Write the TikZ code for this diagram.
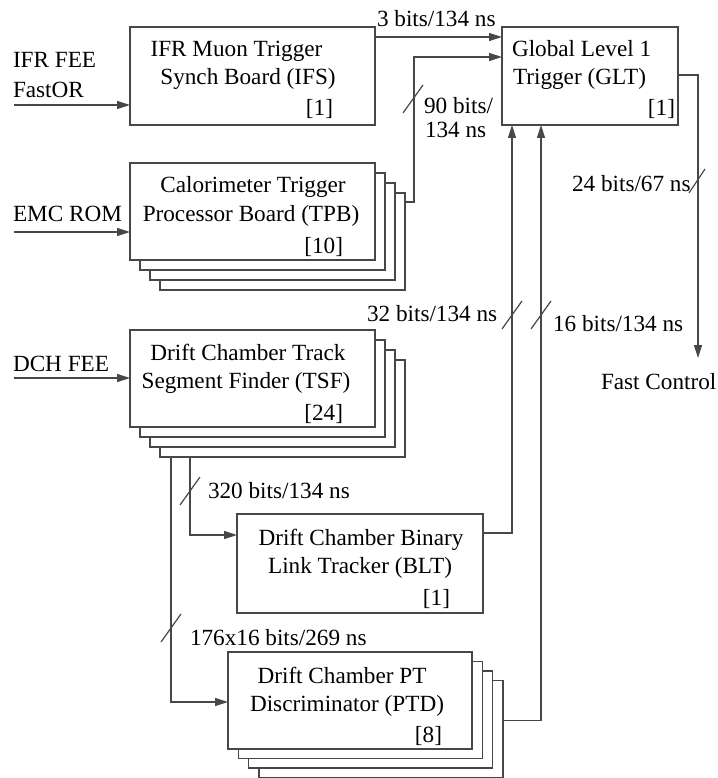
\documentclass[tikz,border=0pt]{standalone}
\usepackage{fontspec}
\setmainfont{Liberation Serif}
\usetikzlibrary{arrows.meta,calc}
\begin{document}
\begin{tikzpicture}[x=1pt,y=-1pt,
  ln/.style={draw=black!72,line width=1.2pt},
  box/.style={ln,fill=white,rectangle,inner sep=0pt,outer sep=0pt},
  arr/.style={ln,-{Triangle[length=13pt,width=8pt]}},
  slashmark/.style={ln},
  txt/.style={inner sep=0pt,outer sep=0pt,text=black,font=\fontsize{23.2}{28}\selectfont},
  lt/.style={txt,anchor=base west},
  ct/.style={txt,anchor=base},
  rt/.style={txt,anchor=base east}]
\useasboundingbox (0,0) rectangle (717,778);
% ---- single boxes
\node[box,minimum width=245pt,minimum height=98pt] (ifs) at (252.5,76) {};
\node[box,minimum width=176pt,minimum height=98pt] (glt) at (590,76) {};
\node[box,minimum width=246pt,minimum height=99pt] (blt) at (360,563.5) {};
% ---- TPB stack
\node[box,minimum width=245pt,minimum height=97pt] (tpb3) at (282.5,241.5) {};
\node[box,minimum width=245pt,minimum height=97pt] (tpb2) at (272.5,231.5) {};
\node[box,minimum width=245pt,minimum height=97pt] (tpb1) at (262.5,221.5) {};
\node[box,minimum width=245pt,minimum height=97pt] (tpb) at (252.5,211.5) {};
% ---- TSF stack
\node[box,minimum width=245pt,minimum height=97pt] (tsf3) at (282.5,408.5) {};
\node[box,minimum width=245pt,minimum height=97pt] (tsf2) at (272.5,398.5) {};
\node[box,minimum width=245pt,minimum height=97pt] (tsf1) at (262.5,388.5) {};
\node[box,minimum width=245pt,minimum height=97pt] (tsf) at (252.5,378.5) {};
% ---- PTD stack
\node[box,minimum width=244pt,minimum height=97pt] (ptd3) at (380.9,729) {};
\node[box,minimum width=244pt,minimum height=97pt] (ptd2) at (370.6,719.5) {};
\node[box,minimum width=244pt,minimum height=97pt] (ptd1) at (360.3,710) {};
\node[box,minimum width=244pt,minimum height=97pt] (ptd) at (350,700.5) {};
% ---- box texts
\node[ct] (ifsa) at (236.5,57) {IFR Muon Trigger};
\node[ct] (ifsb) at (248,85) {Synch Board (IFS)};
\node[rt] (ifsc) at (333,116) {[1]};
\node[lt] (glta) at (512,57) {Global Level 1};
\node[lt] (gltb) at (513,85) {Trigger (GLT)};
\node[rt] (gltc) at (675,116) {[1]};
\node[ct] (tpba) at (253,193) {Calorimeter Trigger};
\node[ct] (tpbb) at (251,221) {Processor Board (TPB)};
\node[rt] (tpbc) at (343,253) {[10]};
\node[ct] (tsfa) at (248,360) {Drift Chamber Track};
\node[ct] (tsfb) at (246,388) {Segment Finder (TSF)};
\node[rt] (tsfc) at (343,420) {[24]};
\node[ct] (blta) at (361,545) {Drift Chamber Binary};
\node[ct] (bltb) at (360,573) {Link Tracker (BLT)};
\node[rt] (bltc) at (450,605) {[1]};
\node[ct] (ptda) at (342,683) {Drift Chamber PT};
\node[ct] (ptdb) at (347,711) {Discriminator (PTD)};
\node[rt] (ptdc) at (442,742) {[8]};
% ---- free labels
\node[lt] (ifrfee) at (13,68) {IFR FEE};
\node[lt] (fastor) at (13,98) {FastOR};
\node[lt] (emcrom) at (13,221) {EMC ROM};
\node[lt] (dchfee) at (13,371) {DCH FEE};
\node[lt] (l3) at (377,27) {3 bits/134 ns};
\node[lt] (l90a) at (424,114) {90 bits/};
\node[lt] (l90b) at (425,138) {134 ns};
\node[lt] (l24) at (572,191) {24 bits/67 ns};
\node[lt] (l32) at (367,321) {32 bits/134 ns};
\node[lt] (l16) at (553,331) {16 bits/134 ns};
\node[lt] (fc) at (601,389) {Fast Control};
\node[lt] (l320) at (208,498) {320 bits/134 ns};
\node[lt] (l176) at (190,645) {176x16 bits/269 ns};
% ---- free ends
\coordinate (ifrin) at (14,105);
\coordinate (emcin) at (14,232);
\coordinate (dchin) at (14,378);
\coordinate (fcend) at (698,358);
% ---- connectors
\draw[arr] (ifrin) -- (ifrin -| ifs.west);
\draw[arr] (emcin) -- (emcin -| tpb.west);
\draw[arr] (dchin) -- (dchin -| tsf.west);
\draw[arr] ($(ifs.north east)+(0,10)$) -- ($(glt.north west)+(0,10)$);
\draw[arr] ($(tpb3.north east)+(0,9)$) -- ++(9,0) |- ($(glt.north west)+(0,30)$);
\draw[arr] ($(glt.north east)+(0,48)$) -| (fcend);
\draw[arr] ($(blt.north west)+(246,19)$) -| ($(glt.south west)+(10,0)$);
\draw[arr] ($(ptd3.north east)+(0,40)$) -| ($(glt.south west)+(39,0)$);
\draw[arr] ($(tsf3.south west)+(30,0)$) |- ($(blt.north west)+(0,21)$);
\draw[arr] ($(tsf3.south west)+(11,0)$) |- ($(ptd.north west)+(0,50)$);
% ---- bus slashes
\draw[slashmark] (413,99) ++(-10,14) -- ++(20,-28);
\draw[slashmark] (512,315) ++(-10,14) -- ++(20,-28);
\draw[slashmark] (541,315) ++(-10,14) -- ++(20,-28);
\draw[slashmark] (190,491) ++(-10,14) -- ++(20,-28);
\draw[slashmark] (171,628) ++(-10,14) -- ++(20,-28);
\draw[slashmark] (697,181) ++(-8,12) -- ++(16,-24);
\end{tikzpicture}
\end{document}
